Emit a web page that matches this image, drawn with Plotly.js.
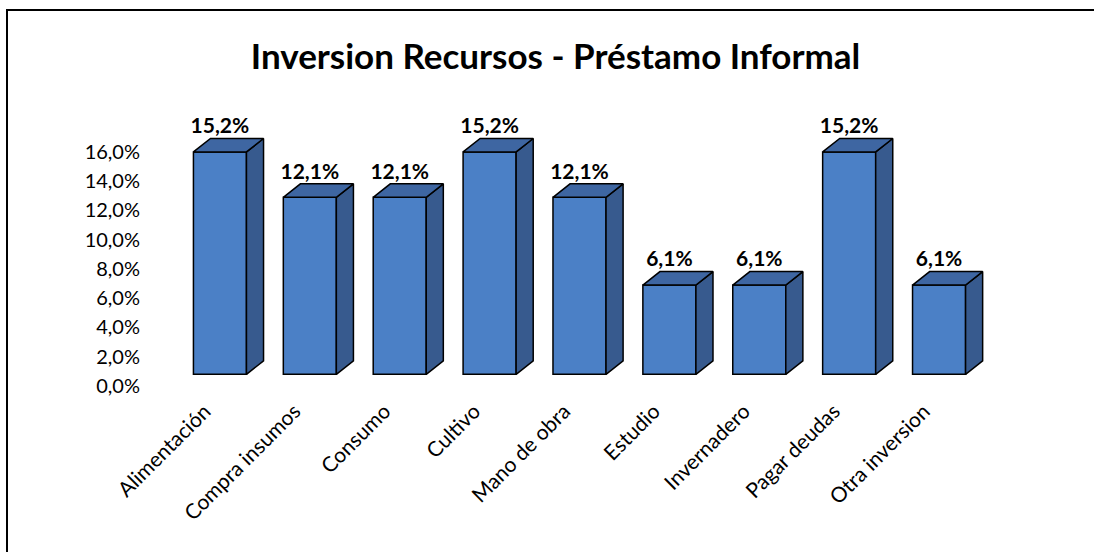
<!DOCTYPE html>
<html>
<head>
<meta charset="utf-8">
<script src="https://cdn.plot.ly/plotly-3.0.1.min.js"></script>
<style>
  html, body { margin: 0; padding: 0; background: #ffffff; overflow: hidden; width: 1094px; height: 552px; }
  #chart { width: 1094px; height: 552px; position: absolute; left: 0; top: 0; }
  #frame { position: absolute; left: 6px; top: 9px; width: 1086px; height: 541px;
           border-left: 2px solid #000; border-top: 2px solid #000; pointer-events: none; }
</style>
</head>
<body>
<div id="chart"></div>
<div id="frame"></div>
<script>
// ---- data ----
const categories = ["Alimentación", "Compra insumos", "Consumo", "Cultivo", "Mano de obra",
                    "Estudio", "Invernadero", "Pagar deudas", "Otra inversion"];
const values = [15.2, 12.1, 12.1, 15.2, 12.1, 6.1, 6.1, 15.2, 6.1];
const valueLabels = ["15,2%", "12,1%", "12,1%", "15,2%", "12,1%", "6,1%", "6,1%", "15,2%", "6,1%"];
const yTicks = [0, 2, 4, 6, 8, 10, 12, 14, 16];
const yTickLabels = ["0,0%", "2,0%", "4,0%", "6,0%", "8,0%", "10,0%", "12,0%", "14,0%", "16,0%"];
const titleText = "Inversion Recursos - Préstamo Informal";

// ---- 3D look settings ----
const barW = 0.59;     // front face width (category units)
const depthX = 0.19;   // side depth in x units
const depthY = 0.92;   // side depth in % units
const labelShift = 0.17; // category labels sit slightly left of the bar centre
const frontColor = "#4B80C6";
const sideColor = "#375A8E";
const topColor = "#3E66A2";
const edge = { color: "#000000", width: 1.5 };
const FONT = "Lato, 'Open Sans', sans-serif";

const xs = categories.map((c, i) => i);
const traces = [];

// side and top faces, computed from the values
xs.forEach((x, i) => {
  const v = values[i];
  const r = x + barW / 2, l = x - barW / 2;
  traces.push({
    type: "scatter", mode: "lines", fill: "toself", fillcolor: sideColor,
    x: [r, r + depthX, r + depthX, r, r],
    y: [0, depthY, v + depthY, v, 0],
    line: edge, yaxis: "y2", hoverinfo: "skip", showlegend: false
  });
  traces.push({
    type: "scatter", mode: "lines", fill: "toself", fillcolor: topColor,
    x: [l, l + depthX, r + depthX, r, l],
    y: [v, v + depthY, v + depthY, v, v],
    line: edge, yaxis: "y2", hoverinfo: "skip", showlegend: false
  });
});

// front faces
traces.push({
  type: "bar", x: xs, y: values, width: barW, yaxis: "y2",
  marker: { color: frontColor, line: edge },
  hoverinfo: "skip", showlegend: false
});

// value labels
traces.push({
  type: "scatter", mode: "text", x: xs, y: values.map(v => v + depthY),
  text: valueLabels, textposition: "top center", yaxis: "y2",
  textfont: { family: FONT, size: 21, color: "#000", weight: "bold" },
  cliponaxis: false, hoverinfo: "skip", showlegend: false
});

// dummy trace to anchor the visible y axis
traces.push({ type: "scatter", mode: "none", x: [0], y: [0], yaxis: "y", hoverinfo: "skip", showlegend: false });

const layout = {
  width: 1094, height: 552,
  margin: { l: 175, r: 110, t: 130, b: 166 },
  paper_bgcolor: "#ffffff", plot_bgcolor: "rgba(0,0,0,0)",
  title: {
    text: "<b>" + titleText + "</b>",
    x: 0.5078, xanchor: "center", xref: "container",
    y: 1 - 57 / 552, yanchor: "middle", yref: "container",
    font: { family: FONT, size: 35, color: "#000" }
  },
  xaxis: {
    type: "linear", range: [-0.5, 8.5], tickmode: "array",
    tickvals: xs.map(x => x - labelShift), ticktext: categories, tickangle: -45,
    showgrid: false, zeroline: false, showline: false, ticks: "",
    ticklabelstandoff: 8,
    tickfont: { family: FONT, size: 21, color: "#000" },
    fixedrange: true
  },
  yaxis: {
    range: [0, 17.5], tickmode: "array", tickvals: yTicks, ticktext: yTickLabels,
    showgrid: false, zeroline: false, showline: false, ticks: "",
    ticklabelstandoff: 34,
    tickfont: { family: FONT, size: 20, color: "#000" },
    fixedrange: true
  },
  yaxis2: {
    overlaying: "y", range: [-0.8, 16.7], visible: false, fixedrange: true
  }
};

Plotly.newPlot("chart", traces, layout, { staticPlot: true, displayModeBar: false });
</script>
</body>
</html>
